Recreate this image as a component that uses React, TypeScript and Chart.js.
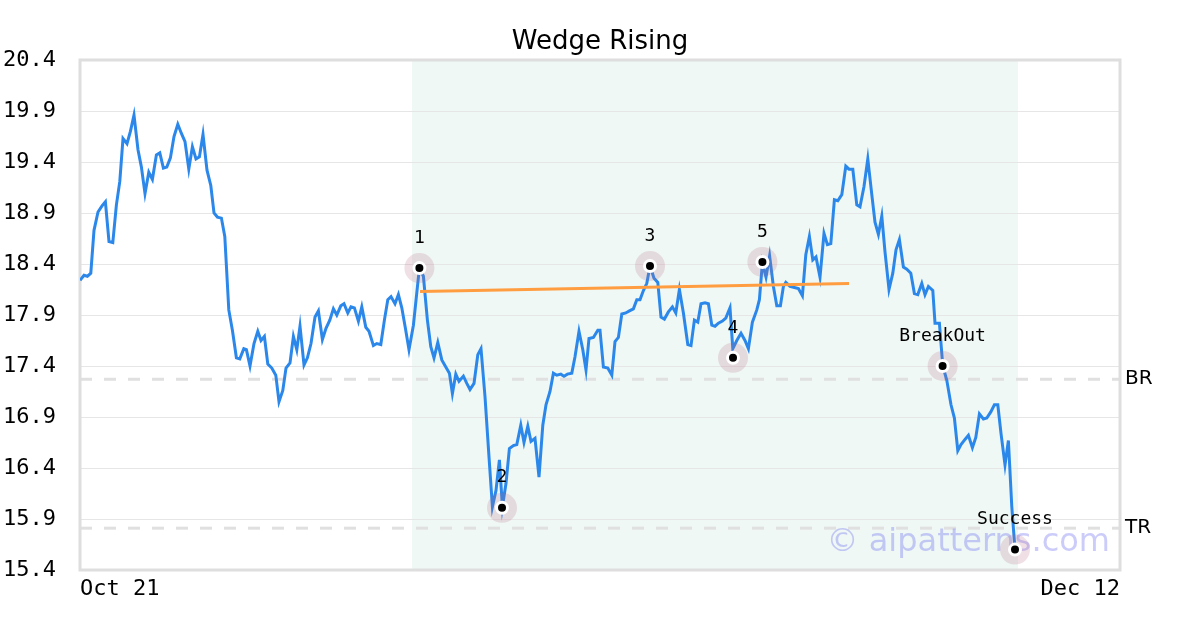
import React, { useEffect, useRef } from "react";
import { Chart, registerables } from "chart.js";

Chart.register(...registerables);

const title = "Wedge Rising";
const watermark = "© aipatterns.com";

// days since Oct 21
const priceDays = [
  0.00,0.20,0.37,0.54,0.70,0.90,1.10,1.27,1.45,1.64,1.82,1.99,2.15,2.35,2.52,2.70,2.90,3.07,3.25,3.44,3.62,3.82,3.99,4.17,4.34,4.52,4.70,4.89,5.07,5.25,5.44,5.62,5.80,5.97,6.15,6.35,6.54,6.70,6.87,7.07,7.24,7.44,7.62,7.82,7.99,8.19,8.32,8.50,
  8.70,8.89,9.05,9.22,9.39,9.59,9.79,9.95,10.14,10.30,10.50,10.67,10.84,11.00,11.20,11.37,11.55,11.75,11.92,12.12,12.30,12.49,12.67,12.84,13.04,13.20,13.39,13.55,13.72,13.92,14.09,14.29,14.45,14.67,14.84,15.04,15.22,15.39,15.55,15.75,15.92,16.09,16.27,16.45,16.67,16.83,16.97,
  17.17,17.37,17.54,17.70,17.89,18.09,18.29,18.47,18.62,18.79,18.95,19.17,19.34,19.50,19.70,19.89,20.05,20.25,20.45,20.62,20.80,20.97,21.12,21.30,21.47,21.67,21.84,22.04,22.20,22.39,22.55,22.75,22.95,23.14,23.30,23.50,23.67,23.84,24.04,24.20,24.37,24.59,24.75,24.95,25.14,25.30,25.45,25.67,25.89,26.00,26.17,26.39,26.59,26.75,26.92,27.09,27.29,27.47,27.67,27.84,28.00,28.17,28.34,28.50,
  28.70,28.89,29.05,29.22,29.42,29.62,29.79,29.97,30.17,30.39,30.55,30.72,30.89,31.05,31.25,31.42,31.59,31.75,31.92,32.12,32.29,32.50,32.64,32.84,33.05,33.25,33.42,33.62,33.84,33.97,34.12,34.30,34.48,34.67,34.84,35.02,35.17,35.29,35.50,35.72,35.92,36.12,36.29,36.47,36.64,36.80,37.00,37.20,37.37,37.54,37.72,37.89,38.09,38.29,38.45,38.64,38.84,39.00,39.20,39.39,39.59,39.75,39.92,40.09,40.25,40.45,40.64,40.80,40.97,41.17,41.34,41.54,41.72,41.89,42.09,42.25,42.42,42.64,42.75,42.97,43.14,43.34,43.55,43.72,43.89,44.05,44.25,44.42,44.62,44.79,44.97,45.17,45.34,45.54,45.72,45.89,46.05,46.25,46.42,46.59,46.75,
];

const priceValues = [
  18.24,18.29,18.28,18.31,18.73,18.91,18.97,19.01,18.62,18.61,18.98,19.21,19.63,19.58,19.70,19.86,19.52,19.35,19.09,19.30,19.23,19.47,19.49,19.34,19.35,19.44,19.65,19.77,19.68,19.60,19.33,19.55,19.43,19.45,19.67,19.32,19.17,18.90,18.86,18.85,18.67,17.95,17.75,17.48,17.47,17.57,17.56,17.40,
  17.62,17.74,17.65,17.69,17.42,17.38,17.31,17.05,17.16,17.38,17.43,17.69,17.56,17.79,17.41,17.48,17.62,17.88,17.94,17.66,17.77,17.85,17.96,17.90,17.99,18.01,17.92,17.98,17.97,17.84,17.98,17.78,17.74,17.60,17.62,17.61,17.85,18.05,18.08,18.01,18.10,17.97,17.77,17.56,17.80,18.10,18.36,
  18.28,17.85,17.59,17.48,17.63,17.46,17.39,17.33,17.13,17.32,17.25,17.30,17.23,17.17,17.23,17.51,17.57,17.10,16.51,16.02,16.18,16.48,16.02,16.25,16.59,16.62,16.63,16.82,16.65,16.81,16.66,16.69,16.31,16.82,17.02,17.15,17.33,17.31,17.32,17.30,17.32,17.33,17.49,17.74,17.56,17.36,17.67,17.68,17.75,17.75,17.39,17.38,17.31,17.64,17.68,17.91,17.92,17.94,17.96,18.05,18.05,18.14,18.21,18.38,
  18.26,18.22,17.88,17.86,17.93,17.98,17.92,18.15,17.92,17.61,17.60,17.85,17.83,18.01,18.02,18.01,17.80,17.79,17.82,17.84,17.87,17.97,17.57,17.65,17.72,17.65,17.57,17.83,17.95,18.05,18.41,18.27,18.48,18.18,17.99,17.99,18.18,18.22,18.18,18.17,18.16,18.09,18.49,18.67,18.44,18.47,18.27,18.70,18.59,18.60,19.03,19.02,19.08,19.36,19.33,19.33,18.98,18.96,19.16,19.43,19.08,18.81,18.69,18.87,18.52,18.15,18.31,18.54,18.64,18.37,18.35,18.31,18.11,18.10,18.21,18.10,18.18,18.14,17.82,17.82,17.40,17.26,17.02,16.89,16.57,16.63,16.68,16.72,16.60,16.70,16.93,16.88,16.89,16.95,17.02,17.02,16.74,16.43,16.67,16.02,15.60,
];

const trendDays = [17.0, 38.45];
const trendValues = [18.13, 18.21];

const pointLabels = ["1", "2", "3", "4", "5", "BreakOut", "Success"];
const pointDays = [16.97, 21.1, 28.5, 32.65, 34.12, 43.13, 46.75];
const pointValues = [18.36, 16.01, 18.38, 17.48, 18.42, 17.4, 15.6];

const levelNames = ["BR", "TR"];
const levelValues = [17.27, 15.81];

const shadeDays = [16.6, 46.9];

const yTicks = [15.4, 15.9, 16.4, 16.9, 17.4, 17.9, 18.4, 18.9, 19.4, 19.9, 20.4];
const xTickDays = [0, 52];
const xTickLabels = ["Oct 21", "Dec 12"];

const MONO = "'DejaVu Sans Mono', monospace";
const SANS = "'DejaVu Sans', sans-serif";

const decor = {
  id: "decor",
  beforeDraw(chart: any) {
    const { ctx, chartArea: a, scales } = chart;
    const x = scales.x;
    ctx.save();
    const x0 = x.getPixelForValue(shadeDays[0]);
    const x1 = x.getPixelForValue(shadeDays[1]);
    ctx.fillStyle = "#eff8f5";
    ctx.fillRect(x0, a.top, x1 - x0, a.bottom - a.top);
    ctx.fillStyle = "#000";
    ctx.font = `26px ${SANS}`;
    ctx.textAlign = "center";
    ctx.textBaseline = "alphabetic";
    ctx.fillText(title, (a.left + a.right) / 2, 49);
    ctx.restore();
  },
  beforeDatasetsDraw(chart: any) {
    const { ctx, chartArea: a, scales } = chart;
    const y = scales.y;
    ctx.save();
    // level lines
    levelValues.forEach((v, i) => {
      const py = y.getPixelForValue(v);
      ctx.strokeStyle = "#e0e0e0";
      ctx.lineWidth = 3;
      ctx.setLineDash([12, 12]);
      ctx.beginPath();
      ctx.moveTo(a.left, py);
      ctx.lineTo(a.right, py);
      ctx.stroke();
      ctx.setLineDash([]);
      ctx.fillStyle = "#000";
      ctx.font = `20px ${SANS}`;
      ctx.textAlign = "left";
      ctx.textBaseline = "middle";
      ctx.fillText(levelNames[i], a.right + 5, py);
    });
    // border
    ctx.strokeStyle = "#dedede";
    ctx.lineWidth = 3;
    ctx.strokeRect(a.left, a.top, a.right - a.left, a.bottom - a.top);
    // watermark
    ctx.fillStyle = "rgba(100,100,240,0.33)";
    ctx.font = `32px ${SANS}`;
    ctx.textAlign = "right";
    ctx.textBaseline = "alphabetic";
    ctx.fillText(watermark, a.right - 10, 551);
    ctx.restore();
  },
  afterDatasetsDraw(chart: any) {
    const { ctx, scales } = chart;
    ctx.save();
    ctx.fillStyle = "#000";
    ctx.font = `18px ${MONO}`;
    ctx.textAlign = "center";
    ctx.textBaseline = "middle";
    pointLabels.forEach((t, i) => {
      const px = scales.x.getPixelForValue(pointDays[i]);
      const py = scales.y.getPixelForValue(pointValues[i]);
      ctx.fillText(t, px, py - 30);
    });
    ctx.restore();
  },
};

export default function App() {
  const ref = useRef<HTMLCanvasElement | null>(null);
  useEffect(() => {
    document.body.style.margin = "0";
    const canvas = ref.current;
    if (!canvas) return;
    const priceData = priceDays.map((d, i) => ({ x: d, y: priceValues[i] }));
    const trendData = trendDays.map((d, i) => ({ x: d, y: trendValues[i] }));
    const markData = pointDays.map((d, i) => ({ x: d, y: pointValues[i] }));
    const chart = new Chart(canvas, {
      type: "line",
      data: {
        datasets: [
          {
            label: "price",
            data: priceData,
            borderColor: "#2b88ea",
            borderWidth: 3,
            pointRadius: 0,
            tension: 0,
            fill: false,
            order: 3,
          },
          {
            label: "trend",
            data: trendData,
            borderColor: "rgb(255,157,64)",
            borderWidth: 3,
            pointRadius: 0,
            tension: 0,
            fill: false,
            order: 2,
          },
          {
            label: "halo",
            type: "scatter",
            data: markData,
            pointRadius: 15,
            backgroundColor: "rgba(180,100,130,0.2)",
            borderWidth: 0,
            order: 1,
          },
          {
            label: "marks",
            type: "scatter",
            data: markData,
            pointRadius: 5.5,
            backgroundColor: "#000",
            borderColor: "#fff",
            borderWidth: 3,
            order: 0,
          },
        ] as any,
      },
      options: {
        animation: false,
        responsive: true,
        maintainAspectRatio: false,
        layout: { padding: { top: 60, right: 80, bottom: 0, left: 0 } },
        plugins: { legend: { display: false }, tooltip: { enabled: false }, title: { display: false } },
        scales: {
          x: {
            type: "linear",
            min: xTickDays[0],
            max: xTickDays[1],
            grid: { display: false, drawTicks: false },
            border: { display: false },
            afterBuildTicks: (s: any) => {
              s.ticks = xTickDays.map((v) => ({ value: v }));
            },
            afterFit: (s: any) => {
              s.height = 60;
            },
            ticks: {
              align: "inner",
              maxRotation: 0,
              padding: 6,
              color: "#000",
              font: { family: MONO, size: 22 },
              callback: (v: any) => {
                const i = xTickDays.indexOf(Number(v));
                return i >= 0 ? xTickLabels[i] : "";
              },
            },
          },
          y: {
            type: "linear",
            min: yTicks[0],
            max: yTicks[yTicks.length - 1],
            grid: { color: "#e6e6e6", lineWidth: 1, drawTicks: false },
            border: { display: false },
            afterBuildTicks: (s: any) => {
              s.ticks = yTicks.map((v) => ({ value: v }));
            },
            afterFit: (s: any) => {
              s.width = 80;
            },
            ticks: {
              padding: 24,
              color: "#000",
              font: { family: MONO, size: 22 },
              callback: (v: any) => Number(v).toFixed(1),
            },
          },
        },
      } as any,
      plugins: [decor],
    });
    return () => chart.destroy();
  }, []);
  return (
    <div style={{ position: "absolute", left: 0, top: 0, width: 1200, height: 630 }}>
      <canvas ref={ref} />
    </div>
  );
}
